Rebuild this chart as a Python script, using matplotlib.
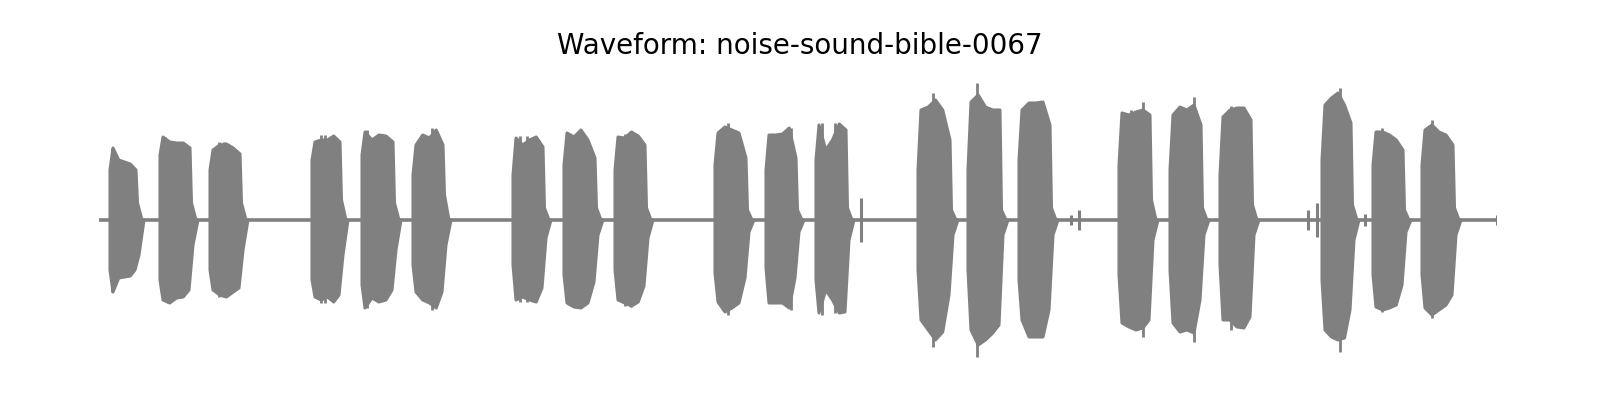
import numpy as np
import matplotlib
matplotlib.use("Agg")
import matplotlib.pyplot as plt

TITLE = "Waveform: noise-sound-bible-0067"
DURATION = 13.98  # seconds

# burst onsets / offsets (s)
burst_start = [0.11, 0.61, 1.11, 2.13, 2.63, 3.14, 4.14, 4.65, 5.16,
               6.16, 6.67, 7.17, 8.19, 8.69, 9.20, 10.20, 10.71, 11.21,
               12.23, 12.74, 13.23]
burst_end = [0.38, 0.92, 1.42, 2.42, 2.95, 3.45, 4.45, 4.97, 5.47,
             6.48, 6.98, 7.48, 8.52, 9.02, 9.52, 10.52, 11.03, 11.53,
             12.53, 13.05, 13.55]

# envelope of each burst (positive peak / negative peak):
# onset level, five readings across the body, level after the release drop
burst_top = [
    [50, 72, 60, 58, 56, 50, 17],
    [65, 83, 78, 77, 77, 72, 17],
    [50, 70, 75, 76, 72, 66, 17],
    [60, 78, 80, 80, 84, 78, 20],
    [65, 88, 80, 85, 84, 78, 17],
    [45, 75, 85, 82, 90, 75, 25],
    [45, 82, 75, 80, 83, 73, 12],
    [55, 87, 83, 90, 80, 62, 12],
    [50, 83, 82, 88, 84, 75, 12],
    [55, 87, 93, 90, 87, 62, 10],
    [50, 85, 85, 86, 92, 62, 10],
    [60, 95, 70, 80, 96, 90, 12],
    [50, 110, 113, 120, 110, 80, 10],
    [50, 118, 125, 113, 110, 110, 10],
    [60, 110, 117, 117, 118, 95, 12],
    [55, 107, 105, 108, 110, 105, 20],
    [50, 105, 113, 110, 115, 95, 12],
    [45, 103, 110, 112, 112, 100, 15],
    [60, 115, 122, 127, 115, 97, 15],
    [55, 88, 88, 85, 80, 70, 10],
    [55, 90, 95, 88, 85, 75, 12],
]
burst_bottom = [
    [50, 72, 58, 57, 56, 50, 35],
    [60, 80, 83, 78, 77, 70, 25],
    [50, 70, 75, 77, 72, 68, 30],
    [60, 77, 80, 77, 82, 75, 35],
    [65, 88, 78, 82, 80, 70, 30],
    [45, 72, 80, 83, 88, 72, 25],
    [45, 80, 77, 80, 82, 68, 18],
    [55, 83, 87, 88, 83, 62, 15],
    [50, 80, 83, 86, 82, 66, 18],
    [53, 82, 92, 88, 83, 58, 12],
    [48, 83, 83, 83, 88, 58, 12],
    [60, 93, 70, 80, 93, 92, 20],
    [50, 100, 110, 120, 112, 75, 15],
    [50, 110, 125, 120, 113, 105, 15],
    [60, 100, 117, 117, 117, 90, 15],
    [55, 103, 107, 110, 108, 100, 20],
    [50, 103, 112, 110, 113, 80, 15],
    [45, 100, 100, 107, 108, 97, 15],
    [60, 110, 117, 120, 118, 90, 20],
    [55, 87, 90, 88, 85, 65, 12],
    [55, 88, 95, 90, 85, 75, 15],
]

# isolated peaks inside bursts
spike_time = [0.13, 0.66, 0.69, 1.20, 1.25, 2.22, 2.26, 2.677, 3.327, 4.21, 4.28,
              4.81, 5.26, 5.32, 6.29, 6.92, 7.227, 7.36, 8.34, 8.777, 9.33,
              10.32, 10.44, 10.95, 11.32, 12.41, 12.83, 13.327]
spike_top = [72, 83, 80, 78, 78, 85, 85, 90, 92, 84, 84,
             90, 86, 88, 97, 92, 97, 97, 127, 137, 118,
             110, 118, 123, 114, 132, 92, 100]
spike_bottom = [72, 80, 83, 77, 77, 83, 83, 88, 90, 82, 82,
                88, 86, 87, 95, 90, 95, 93, 127, 137, 117,
                108, 117, 122, 110, 132, 92, 98]

# small clicks between bursts
click_time = [7.62, 9.72, 9.80, 12.09, 12.18, 12.66, 13.98]
click_amp = [22, 5, 10, 10, 17, 6, 5]

COLOR = "#808080"

fig = plt.figure(figsize=(16, 4), dpi=100)
ax = fig.add_axes([99 / 1600, 30 / 400, 1398 / 1600, 300 / 400])

# silent baseline
ax.plot([0, DURATION], [0, 0], color=COLOR, linewidth=2.6, solid_capstyle="round")

for s, e, tp, bt in zip(burst_start, burst_end, burst_top, burst_bottom):
    body = list(np.linspace(s + 0.03, e - 0.01, len(tp) - 2))
    tt = [s, s] + body + [e + 0.005, e + 0.05]
    vt = [0.0, tp[0]] + list(tp[1:-1]) + [tp[-1], 0.0]
    tb = [s, s] + body[:-1] + [e - 0.02, e + 0.02, e + 0.07]
    vb = [0.0, bt[0]] + list(bt[1:-1]) + [bt[-1], 0.0]
    xs = tt + tb[::-1]
    ys = vt + [-v for v in vb[::-1]]
    ax.fill(xs, ys, facecolor=COLOR, edgecolor=COLOR, linewidth=2.2,
            joinstyle="round")

ax.vlines(spike_time, -np.array(spike_bottom), spike_top, color=COLOR, linewidth=2.0)
ax.vlines(click_time, -np.array(click_amp), click_amp, color=COLOR, linewidth=2.2)

ax.set_xlim(0, DURATION)
ax.set_ylim(-150, 150)
ax.axis("off")

fig.text(0.5, 1 - 54 / 400, TITLE, ha="center", va="baseline", fontsize=20,
         family="DejaVu Sans")

fig.savefig("out.png", dpi=100)
